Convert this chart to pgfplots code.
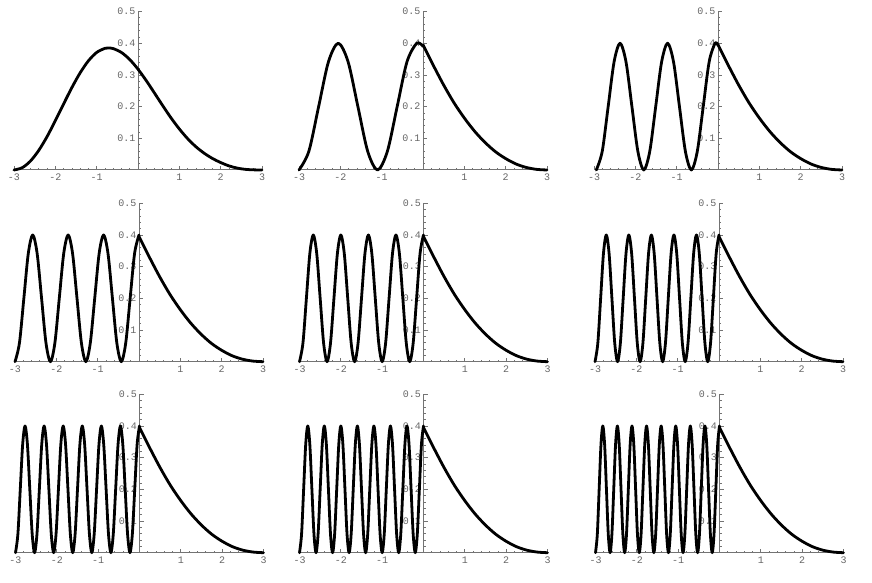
\documentclass[border=0pt]{standalone}
\usepackage{fontspec}
\setmonofont{Liberation Mono}
\usepackage{pgfplots}
\usepackage{pgfplotstable}
\pgfplotsset{compat=1.18}

\pgfplotstableread{
x y
0 0.395
0.25 0.330
0.5 0.268
0.75 0.212
1 0.164
1.25 0.122
1.5 0.087
1.75 0.058
2 0.036
2.25 0.019
2.5 0.008
2.75 0.002
3 0
}\rightside

\pgfplotsset{
 panel/.style={
  scale only axis, width=248pt, height=158.5pt,
  xmin=-3, xmax=3, ymin=0, ymax=0.5,
  axis lines=middle, clip=false, anchor=south west,
  axis line style={-, draw=black!55, line width=1pt},
  every inner x axis line/.append style={-},
  every inner y axis line/.append style={-},
  xtick={-3,-2,-1,1,2,3}, xticklabels={-3,-2,-1,1,2,3},
  ytick={0.1,0.2,0.3,0.4,0.5}, yticklabels={0.1,0.2,0.3,0.4,0.5},
  minor xtick={-2.8,-2.6,-2.4,-2.2,-1.8,-1.6,-1.4,-1.2,-0.8,-0.6,-0.4,-0.2,0.2,0.4,0.6,0.8,1.2,1.4,1.6,1.8,2.2,2.4,2.6,2.8},
  minor ytick={0.02,0.04,0.06,0.08,0.12,0.14,0.16,0.18,0.22,0.24,0.26,0.28,0.32,0.34,0.36,0.38,0.42,0.44,0.46,0.48},
  tick style={draw=black!55, line width=0.7pt},
  major tick length=4pt, minor tick length=2pt,
  tick align=inside,
  ticklabel style={font=\fontsize{10}{10}\selectfont\ttfamily, text=black!60},
  xticklabel style={anchor=north, inner sep=0pt, yshift=-4pt},
  yticklabel style={anchor=east, inner sep=0pt, xshift=-2.5pt},
 },
 curve/.style={black, line width=2.8pt, smooth, line join=round, line cap=round, mark=none},
}

\begin{document}
\begin{tikzpicture}
\path[use as bounding box] (0pt,0pt) rectangle (872pt,582pt);

% ---------- Row 1 ----------
\begin{axis}[panel, at={(14pt,412pt)}]
\addplot[curve] coordinates {(-3,0) (-2.8,0.0073) (-2.6,0.0285) (-2.4,0.0621) (-2.2,0.1053) (-2.0,0.1556) (-1.8,0.2084) (-1.6,0.2600) (-1.4,0.3065) (-1.2,0.3444) (-1.0,0.3709) (-0.8,0.3838) (-0.72,0.385) (-0.6,0.383) (-0.4,0.3707) (-0.2,0.3485) (0,0.318) (0.2,0.2819) (0.4,0.2425) (0.6,0.2026) (0.8,0.1642) (1.0,0.1295) (1.2,0.0990) (1.4,0.0735) (1.6,0.0530) (1.8,0.0365) (2.0,0.0235) (2.2,0.013) (2.4,0.006) (2.6,0.002) (2.8,0.0005) (3,0)};
\end{axis}

\begin{axis}[panel, at={(299pt,412pt)}]
\addplot[curve] coordinates {(0,0.39) (-0.15,0.4) (-0.3875,0.3414) (-0.625,0.2) (-0.8625,0.0586) (-1.1,0) (-1.3375,0.0586) (-1.575,0.2) (-1.8125,0.3414) (-2.05,0.4) (-2.2875,0.3414) (-2.525,0.2) (-2.7625,0.0586) (-3,0)};
\addplot[curve] table[x=x,y=y] {\rightside};
\end{axis}

\begin{axis}[panel, at={(594pt,412pt)}]
\addplot[curve] coordinates {(0,0.393) (-0.07,0.4) (-0.2138,0.3414) (-0.3575,0.2) (-0.5013,0.0586) (-0.645,0) (-0.7888,0.0586) (-0.9325,0.2) (-1.0763,0.3414) (-1.22,0.4) (-1.3638,0.3414) (-1.5075,0.2) (-1.6513,0.0586) (-1.795,0) (-1.9388,0.0586) (-2.0825,0.2) (-2.2263,0.3414) (-2.37,0.4) (-2.5138,0.3414) (-2.6575,0.2) (-2.8013,0.0586) (-2.945,0)};
\addplot[curve] table[x=x,y=y] {\rightside};
\end{axis}

% ---------- Row 2 ----------
\begin{axis}[panel, at={(15pt,220.3pt)}]
\addplot[curve] coordinates {(0,0.4) (-0.1071,0.3414) (-0.2143,0.2) (-0.3214,0.0586) (-0.4286,0) (-0.5357,0.0586) (-0.6429,0.2) (-0.75,0.3414) (-0.8571,0.4) (-0.9643,0.3414) (-1.0714,0.2) (-1.1786,0.0586) (-1.2857,0) (-1.3929,0.0586) (-1.5,0.2) (-1.6071,0.3414) (-1.7143,0.4) (-1.8214,0.3414) (-1.9286,0.2) (-2.0357,0.0586) (-2.1429,0) (-2.25,0.0586) (-2.3571,0.2) (-2.4643,0.3414) (-2.5714,0.4) (-2.6786,0.3414) (-2.7857,0.2) (-2.8929,0.0586) (-3,0)};
\addplot[curve] table[x=x,y=y] {\rightside};
\end{axis}

\begin{axis}[panel, at={(299.5pt,220.3pt)}]
\addplot[curve] coordinates {(0,0.4) (-0.0833,0.3414) (-0.1667,0.2) (-0.25,0.0586) (-0.3333,0) (-0.4167,0.0586) (-0.5,0.2) (-0.5833,0.3414) (-0.6667,0.4) (-0.75,0.3414) (-0.8333,0.2) (-0.9167,0.0586) (-1,0) (-1.0833,0.0586) (-1.1667,0.2) (-1.25,0.3414) (-1.3333,0.4) (-1.4167,0.3414) (-1.5,0.2) (-1.5833,0.0586) (-1.6667,0) (-1.75,0.0586) (-1.8333,0.2) (-1.9167,0.3414) (-2,0.4) (-2.0833,0.3414) (-2.1667,0.2) (-2.25,0.0586) (-2.3333,0) (-2.4167,0.0586) (-2.5,0.2) (-2.5833,0.3414) (-2.6667,0.4) (-2.75,0.3414) (-2.8333,0.2) (-2.9167,0.0586) (-3,0)};
\addplot[curve] table[x=x,y=y] {\rightside};
\end{axis}

\begin{axis}[panel, at={(595pt,220.3pt)}]
\addplot[curve] coordinates {(0,0.4) (-0.0682,0.3414) (-0.1364,0.2) (-0.2045,0.0586) (-0.2727,0) (-0.3409,0.0586) (-0.4091,0.2) (-0.4773,0.3414) (-0.5455,0.4) (-0.6136,0.3414) (-0.6818,0.2) (-0.75,0.0586) (-0.8182,0) (-0.8864,0.0586) (-0.9545,0.2) (-1.0227,0.3414) (-1.0909,0.4) (-1.1591,0.3414) (-1.2273,0.2) (-1.2955,0.0586) (-1.3636,0) (-1.4318,0.0586) (-1.5,0.2) (-1.5682,0.3414) (-1.6364,0.4) (-1.7045,0.3414) (-1.7727,0.2) (-1.8409,0.0586) (-1.9091,0) (-1.9773,0.0586) (-2.0455,0.2) (-2.1136,0.3414) (-2.1818,0.4) (-2.25,0.3414) (-2.3182,0.2) (-2.3864,0.0586) (-2.4545,0) (-2.5227,0.0586) (-2.5909,0.2) (-2.6591,0.3414) (-2.7273,0.4) (-2.7955,0.3414) (-2.8636,0.2) (-2.9318,0.0586) (-3,0)};
\addplot[curve] table[x=x,y=y] {\rightside};
\end{axis}

% ---------- Row 3 ----------
\begin{axis}[panel, at={(15.5pt,29.3pt)}]
\addplot[curve] coordinates {(0,0.4) (-0.0577,0.3414) (-0.1154,0.2) (-0.1731,0.0586) (-0.2308,0) (-0.2885,0.0586) (-0.3462,0.2) (-0.4038,0.3414) (-0.4615,0.4) (-0.5192,0.3414) (-0.5769,0.2) (-0.6346,0.0586) (-0.6923,0) (-0.75,0.0586) (-0.8077,0.2) (-0.8654,0.3414) (-0.9231,0.4) (-0.9808,0.3414) (-1.0385,0.2) (-1.0962,0.0586) (-1.1538,0) (-1.2115,0.0586) (-1.2692,0.2) (-1.3269,0.3414) (-1.3846,0.4) (-1.4423,0.3414) (-1.5,0.2) (-1.5577,0.0586) (-1.6154,0) (-1.6731,0.0586) (-1.7308,0.2) (-1.7885,0.3414) (-1.8462,0.4) (-1.9038,0.3414) (-1.9615,0.2) (-2.0192,0.0586) (-2.0769,0) (-2.1346,0.0586) (-2.1923,0.2) (-2.25,0.3414) (-2.3077,0.4) (-2.3654,0.3414) (-2.4231,0.2) (-2.4808,0.0586) (-2.5385,0) (-2.5962,0.0586) (-2.6538,0.2) (-2.7115,0.3414) (-2.7692,0.4) (-2.8269,0.3414) (-2.8846,0.2) (-2.9423,0.0586) (-3,0)};
\addplot[curve] table[x=x,y=y] {\rightside};
\end{axis}

\begin{axis}[panel, at={(299.5pt,29.3pt)}]
\addplot[curve] coordinates {(0,0.4) (-0.05,0.3414) (-0.1,0.2) (-0.15,0.0586) (-0.2,0) (-0.25,0.0586) (-0.3,0.2) (-0.35,0.3414) (-0.4,0.4) (-0.45,0.3414) (-0.5,0.2) (-0.55,0.0586) (-0.6,0) (-0.65,0.0586) (-0.7,0.2) (-0.75,0.3414) (-0.8,0.4) (-0.85,0.3414) (-0.9,0.2) (-0.95,0.0586) (-1.0,0) (-1.05,0.0586) (-1.1,0.2) (-1.15,0.3414) (-1.2,0.4) (-1.25,0.3414) (-1.3,0.2) (-1.35,0.0586) (-1.4,0) (-1.45,0.0586) (-1.5,0.2) (-1.55,0.3414) (-1.6,0.4) (-1.65,0.3414) (-1.7,0.2) (-1.75,0.0586) (-1.8,0) (-1.85,0.0586) (-1.9,0.2) (-1.95,0.3414) (-2.0,0.4) (-2.05,0.3414) (-2.1,0.2) (-2.15,0.0586) (-2.2,0) (-2.25,0.0586) (-2.3,0.2) (-2.35,0.3414) (-2.4,0.4) (-2.45,0.3414) (-2.5,0.2) (-2.55,0.0586) (-2.6,0) (-2.65,0.0586) (-2.7,0.2) (-2.75,0.3414) (-2.8,0.4) (-2.85,0.3414) (-2.9,0.2) (-2.95,0.0586) (-3,0)};
\addplot[curve] table[x=x,y=y] {\rightside};
\end{axis}

\begin{axis}[panel, at={(595.5pt,29.3pt)}]
\addplot[curve] coordinates {(0,0.4) (-0.0441,0.3414) (-0.0882,0.2) (-0.1324,0.0586) (-0.1765,0) (-0.2206,0.0586) (-0.2647,0.2) (-0.3088,0.3414) (-0.3529,0.4) (-0.3971,0.3414) (-0.4412,0.2) (-0.4853,0.0586) (-0.5294,0) (-0.5735,0.0586) (-0.6176,0.2) (-0.6618,0.3414) (-0.7059,0.4) (-0.75,0.3414) (-0.7941,0.2) (-0.8382,0.0586) (-0.8824,0) (-0.9265,0.0586) (-0.9706,0.2) (-1.0147,0.3414) (-1.0588,0.4) (-1.1029,0.3414) (-1.1471,0.2) (-1.1912,0.0586) (-1.2353,0) (-1.2794,0.0586) (-1.3235,0.2) (-1.3676,0.3414) (-1.4118,0.4) (-1.4559,0.3414) (-1.5,0.2) (-1.5441,0.0586) (-1.5882,0) (-1.6324,0.0586) (-1.6765,0.2) (-1.7206,0.3414) (-1.7647,0.4) (-1.8088,0.3414) (-1.8529,0.2) (-1.8971,0.0586) (-1.9412,0) (-1.9853,0.0586) (-2.0294,0.2) (-2.0735,0.3414) (-2.1176,0.4) (-2.1618,0.3414) (-2.2059,0.2) (-2.25,0.0586) (-2.2941,0) (-2.3382,0.0586) (-2.3824,0.2) (-2.4265,0.3414) (-2.4706,0.4) (-2.5147,0.3414) (-2.5588,0.2) (-2.6029,0.0586) (-2.6471,0) (-2.6912,0.0586) (-2.7353,0.2) (-2.7794,0.3414) (-2.8235,0.4) (-2.8676,0.3414) (-2.9118,0.2) (-2.9559,0.0586) (-3,0)};
\addplot[curve] table[x=x,y=y] {\rightside};
\end{axis}
\end{tikzpicture}
\end{document}
